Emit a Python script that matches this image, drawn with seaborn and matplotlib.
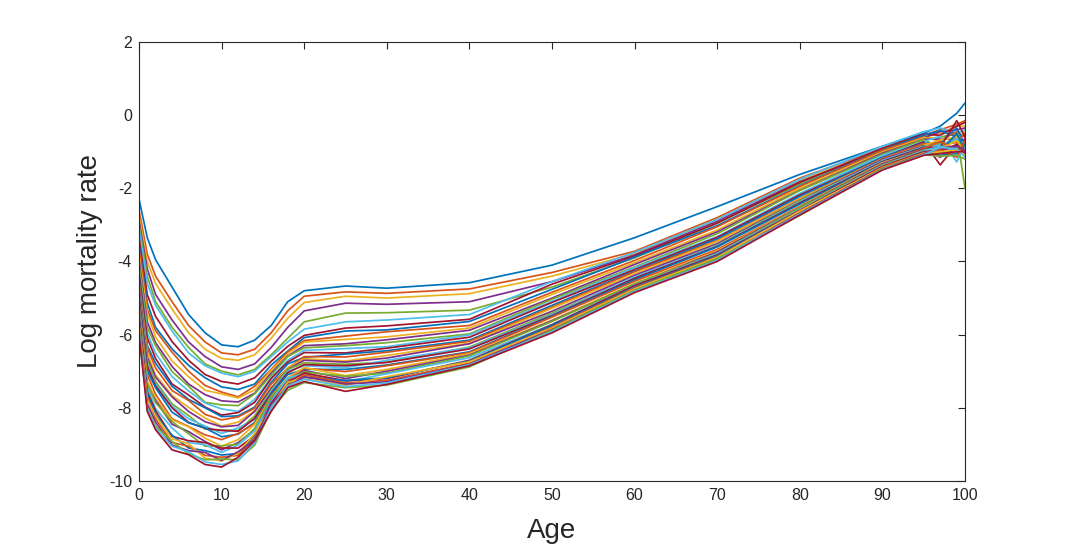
import numpy as np
import pandas as pd
import matplotlib
matplotlib.use("Agg")
import matplotlib.pyplot as plt
import seaborn as sns

# -----------------------------
# Data: log mortality rate per age,
# one value per curve (curves in time order, earliest first)
# -----------------------------
ages = [0, 1, 2, 4, 6, 8, 10, 12, 14, 16, 18, 20, 25, 30, 40, 50, 60, 70, 80, 90, 95, 97, 99, 100]

log_m_00 = [-2.3, -2.6, -2.75, -2.9, -3.0, -3.10, -3.36, -3.54, -3.62, -3.83, -3.97, -4.09, -4.28, -4.33, -4.45, -4.56,
            -4.67, -4.70, -4.87, -4.92, -4.98, -5.08, -5.22, -5.27, -5.33, -5.37, -5.46, -5.50, -5.64, -5.70, -5.73,
            -5.85, -5.91, -5.95, -6.0]
log_m_01 = [-3.35, -3.8, -4.0, -4.2, -4.4, -4.60, -4.91, -5.13, -5.31, -5.42, -5.65, -5.80, -5.95, -6.09, -6.30, -6.36,
            -6.49, -6.62, -6.70, -6.80, -6.86, -6.99, -7.10, -7.28, -7.40, -7.34, -7.45, -7.56, -7.62, -7.70, -7.78,
            -7.89, -8.00, -8.05, -8.10]
log_m_02 = [-3.95, -4.4, -4.6, -4.9, -5.1, -5.20, -5.50, -5.80, -5.89, -6.06, -6.22, -6.30, -6.51, -6.65, -6.78, -6.91,
            -7.10, -7.16, -7.28, -7.35, -7.40, -7.45, -7.63, -7.75, -7.80, -7.86, -8.02, -8.08, -8.18, -8.30, -8.22,
            -8.39, -8.50, -8.55, -8.60]
log_m_04 = [-4.7, -5.1, -5.3, -5.6, -5.8, -5.90, -6.19, -6.39, -6.48, -6.72, -6.87, -7.01, -7.15, -7.35, -7.41, -7.53,
            -7.66, -7.70, -7.89, -7.95, -8.00, -8.12, -8.30, -8.33, -8.45, -8.38, -8.55, -8.78, -8.75, -8.95, -8.85,
            -9.02, -8.92, -9.05, -9.15]
log_m_06 = [-5.45, -5.75, -5.95, -6.2, -6.35, -6.50, -6.70, -6.84, -7.00, -7.15, -7.35, -7.41, -7.54, -7.65, -7.77, -7.80,
            -7.99, -8.10, -8.21, -8.30, -8.40, -8.41, -8.51, -8.52, -8.65, -8.71, -8.95, -8.90, -9.10, -9.05, -8.98,
            -9.17, -9.26, -9.20, -9.28]
log_m_08 = [-5.95, -6.2, -6.4, -6.6, -6.8, -6.85, -7.09, -7.18, -7.39, -7.52, -7.64, -7.85, -7.87, -7.98, -8.00, -8.18,
            -8.28, -8.38, -8.58, -8.50, -8.56, -8.55, -8.74, -8.83, -8.92, -9.05, -9.01, -8.95, -9.17, -9.30, -9.38,
            -9.22, -9.42, -9.48, -9.55]
log_m_10 = [-6.28, -6.5, -6.65, -6.88, -7.0, -7.05, -7.28, -7.43, -7.57, -7.62, -7.81, -7.92, -8.03, -8.20, -8.24, -8.33,
            -8.50, -8.52, -8.61, -8.70, -8.62, -8.79, -8.87, -9.05, -9.15, -9.04, -9.22, -9.10, -9.29, -9.35, -9.45,
            -9.44, -9.40, -9.55, -9.62]
log_m_12 = [-6.33, -6.55, -6.7, -6.95, -7.1, -7.15, -7.35, -7.50, -7.70, -7.73, -7.84, -7.94, -8.10, -8.13, -8.22, -8.25,
            -8.39, -8.48, -8.62, -8.55, -8.64, -8.72, -8.70, -8.87, -8.95, -9.00, -9.02, -9.10, -9.25, -9.30, -9.24,
            -9.20, -9.42, -9.45, -9.35]
log_m_14 = [-6.15, -6.4, -6.55, -6.8, -6.95, -7.00, -7.18, -7.35, -7.41, -7.51, -7.60, -7.62, -7.77, -7.85, -7.98, -8.01,
            -8.08, -8.10, -8.22, -8.32, -8.29, -8.40, -8.43, -8.45, -8.60, -8.56, -8.63, -8.76, -8.75, -8.82, -8.70,
            -8.88, -9.02, -8.95, -8.90]
log_m_16 = [-5.75, -5.95, -6.1, -6.35, -6.55, -6.60, -6.73, -6.83, -6.95, -6.98, -7.05, -7.11, -7.18, -7.20, -7.30, -7.35,
            -7.45, -7.47, -7.52, -7.55, -7.60, -7.62, -7.67, -7.72, -7.78, -7.70, -7.82, -7.87, -7.98, -7.92, -7.96,
            -7.90, -8.06, -8.00, -8.10]
log_m_18 = [-5.1, -5.35, -5.55, -5.8, -6.1, -6.20, -6.32, -6.45, -6.47, -6.53, -6.59, -6.60, -6.70, -6.75, -6.80, -6.92,
            -6.90, -6.95, -6.95, -7.00, -7.04, -7.09, -7.20, -7.17, -7.25, -7.22, -7.18, -7.30, -7.34, -7.38, -7.30,
            -7.42, -7.52, -7.40, -7.45]
log_m_20 = [-4.8, -4.95, -5.12, -5.35, -5.65, -5.85, -6.02, -6.08, -6.16, -6.20, -6.30, -6.36, -6.43, -6.49, -6.62, -6.60,
            -6.66, -6.70, -6.77, -6.85, -6.82, -6.95, -6.92, -6.90, -6.98, -7.02, -7.07, -7.05, -7.17, -7.10, -7.21,
            -7.15, -7.31, -7.22, -7.28]
log_m_25 = [-4.67, -4.83, -4.95, -5.14, -5.41, -5.65, -5.82, -5.90, -6.04, -6.13, -6.25, -6.30, -6.38, -6.50, -6.53, -6.61,
            -6.72, -6.75, -6.81, -6.90, -6.85, -6.95, -7.01, -7.12, -7.20, -7.14, -7.28, -7.26, -7.25, -7.32, -7.38,
            -7.35, -7.45, -7.42, -7.55]
log_m_30 = [-4.73, -4.87, -5.0, -5.17, -5.4, -5.60, -5.76, -5.87, -5.92, -6.06, -6.14, -6.22, -6.33, -6.37, -6.44, -6.48,
            -6.57, -6.64, -6.75, -6.70, -6.76, -6.83, -6.85, -6.95, -7.00, -7.05, -7.07, -7.20, -7.18, -7.25, -7.15,
            -7.29, -7.38, -7.32, -7.36]
log_m_40 = [-4.58, -4.75, -4.88, -5.1, -5.33, -5.45, -5.58, -5.64, -5.75, -5.82, -5.88, -5.98, -6.01, -6.07, -6.15, -6.18,
            -6.23, -6.25, -6.34, -6.36, -6.39, -6.47, -6.49, -6.52, -6.56, -6.58, -6.63, -6.70, -6.72, -6.78, -6.74,
            -6.81, -6.88, -6.82, -6.85]
log_m_50 = [-4.1, -4.3, -4.4, -4.55, -4.7, -4.55, -4.62, -4.76, -4.84, -4.90, -5.00, -5.03, -5.09, -5.12, -5.20, -5.25,
            -5.28, -5.36, -5.41, -5.45, -5.48, -5.50, -5.52, -5.60, -5.62, -5.64, -5.72, -5.73, -5.75, -5.79, -5.82,
            -5.86, -5.88, -5.92, -5.95]
log_m_60 = [-3.35, -3.72, -3.78, -3.82, -3.9, -3.75, -3.85, -3.88, -3.97, -4.03, -4.08, -4.15, -4.17, -4.22, -4.26, -4.28,
            -4.34, -4.38, -4.45, -4.42, -4.46, -4.50, -4.54, -4.60, -4.63, -4.61, -4.65, -4.66, -4.71, -4.73, -4.75,
            -4.80, -4.79, -4.82, -4.85]
log_m_70 = [-2.5, -2.8, -2.85, -2.9, -2.95, -2.85, -2.95, -3.02, -3.05, -3.14, -3.19, -3.24, -3.32, -3.34, -3.38, -3.43,
            -3.45, -3.51, -3.55, -3.57, -3.59, -3.60, -3.67, -3.71, -3.74, -3.78, -3.79, -3.82, -3.84, -3.87, -3.89,
            -3.95, -3.92, -3.97, -4.00]
log_m_80 = [-1.62, -1.72, -1.78, -1.82, -1.88, -1.75, -1.84, -1.93, -1.95, -2.00, -2.05, -2.06, -2.14, -2.18, -2.22, -2.28,
            -2.29, -2.33, -2.34, -2.37, -2.40, -2.43, -2.49, -2.50, -2.52, -2.53, -2.58, -2.60, -2.63, -2.66, -2.62,
            -2.69, -2.74, -2.70, -2.73]
log_m_90 = [-0.85, -0.9, -0.95, -0.98, -1.0, -0.85, -0.91, -0.95, -0.96, -1.01, -1.04, -1.07, -1.10, -1.16, -1.15, -1.18,
            -1.20, -1.21, -1.25, -1.24, -1.27, -1.29, -1.31, -1.30, -1.33, -1.36, -1.38, -1.40, -1.45, -1.42, -1.44,
            -1.46, -1.47, -1.49, -1.50]
log_m_95 = [-0.5, -0.55, -0.6, -0.62, -0.65, -0.45, -0.52, -0.55, -0.60, -0.62, -0.66, -0.67, -0.72, -0.73, -0.77, -0.78,
            -0.82, -0.83, -0.85, -0.86, -0.88, -0.90, -0.91, -0.95, -0.94, -0.96, -0.98, -1.00, -1.02, -1.03, -1.04,
            -1.06, -1.08, -1.09, -1.10]
log_m_97 = [-0.3, -0.4, -0.5, -0.45, -0.6, -0.35, -0.55, -0.42, -0.7, -0.62, -0.65, -0.9, -0.58, -1.36, -0.75, -0.8,
            -0.68, -0.95, -0.78, -0.82, -0.88, -1.0, -0.72, -0.92, -1.15, -1.05, -0.85, -0.98, -1.1, -0.95, -1.0,
            -0.9, -1.12, -0.88, -1.05]
log_m_99 = [0.05, -0.25, -0.3, -0.4, -0.5, -0.5, -0.3, -0.6, -0.45, -0.7, -0.65, -0.55, -1.28, -0.8, -0.35, -0.75,
            -0.6, -0.9, -0.7, -0.65, -0.15, -0.5, -0.95, -0.7, -0.85, -0.9, -1.0, -0.8, -1.05, -1.15, -0.95,
            -0.85, -1.1, -0.92, -1.0]
log_m_100 = [0.33, -0.15, -0.3, -0.35, -2.0, -0.4, -0.2, -0.5, -0.6, -0.45, -0.7, -0.55, -0.75, -0.65, -0.8, -0.5,
             -0.9, -0.7, -0.85, -0.78, -0.6, -0.95, -0.75, -1.0, -0.95, -0.85, -0.9, -1.05, -0.8, -0.7, -1.1,
             -0.95, -1.2, -1.15, -1.0]

columns = [log_m_00, log_m_01, log_m_02, log_m_04, log_m_06, log_m_08, log_m_10, log_m_12, log_m_14,
           log_m_16, log_m_18, log_m_20, log_m_25, log_m_30, log_m_40, log_m_50, log_m_60, log_m_70,
           log_m_80, log_m_90, log_m_95, log_m_97, log_m_99, log_m_100]

# MATLAB default colour order
matlab_colors = ["#0072BD", "#D95319", "#EDB120", "#7E2F8E", "#77AC30", "#4DBEEE", "#A2142F"]

# -----------------------------
# Long table for seaborn
# -----------------------------
n_curves = len(log_m_00)
assert all(len(c) == n_curves for c in columns)
rows = []
for age, col in zip(ages, columns):
    for k, v in enumerate(col):
        rows.append({"age": age, "log_rate": v, "curve": f"c{k:02d}"})
df = pd.DataFrame(rows)
curve_order = [f"c{k:02d}" for k in range(n_curves)]
palette = {c: matlab_colors[k % 7] for k, c in enumerate(curve_order)}

# -----------------------------
# Plot
# -----------------------------
sns.set_style("white")
plt.rcParams["font.family"] = ["Liberation Sans", "DejaVu Sans"]
plt.rcParams["axes.unicode_minus"] = False

fig = plt.figure(figsize=(10.67, 5.47), dpi=100)
ax = fig.add_axes([0.1303, 0.1207, 0.7741, 0.8025])

sns.lineplot(data=df, x="age", y="log_rate", hue="curve", hue_order=curve_order,
             palette=palette, linewidth=1.25, legend=False, errorbar=None,
             sort=True, ax=ax)

ax.set_xlim(0, 100)
ax.set_ylim(-10, 2)
ax.set_xticks(range(0, 101, 10))
ax.set_yticks(range(-10, 3, 2))

edge = "#262626"
for s in ax.spines.values():
    s.set_visible(True)
    s.set_color(edge)
    s.set_linewidth(0.8)
ax.tick_params(direction="in", length=5, width=0.8, colors=edge, labelsize=11.5,
               top=True, right=True, labeltop=False, labelright=False, pad=5)

ax.set_xlabel("Age", fontsize=20, color=edge, labelpad=11)
ax.set_ylabel("Log mortality rate", fontsize=20, color=edge, labelpad=4)

fig.savefig("out.png", dpi=100)
